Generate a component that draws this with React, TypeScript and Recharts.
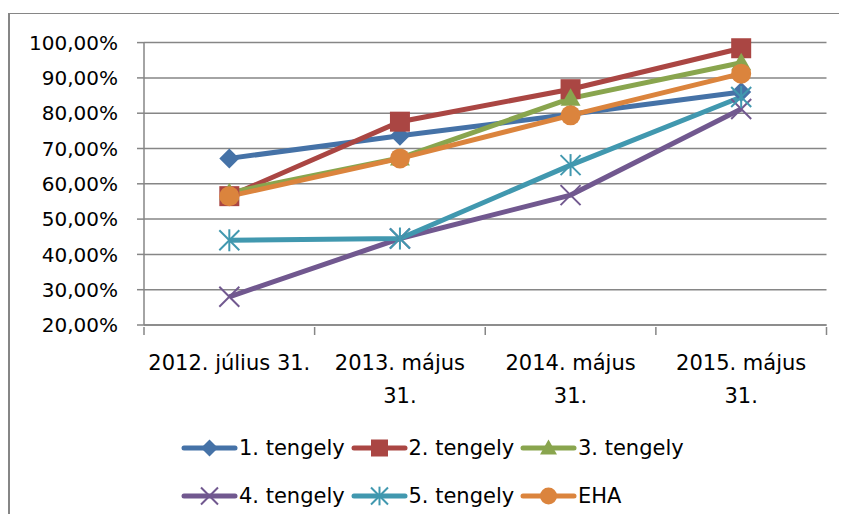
import React from 'react';
import { LineChart, Line, XAxis, YAxis, CartesianGrid, Legend } from 'recharts';

const categories = ['2012. július 31.', '2013. május 31.', '2014. május 31.', '2015. május 31.'];
const tickLines = [['2012. július 31.'], ['2013. május', '31.'], ['2014. május', '31.'], ['2015. május', '31.']];
const yTicks = [20, 30, 40, 50, 60, 70, 80, 90, 100];

const tengely1 = [67.2, 73.6, 79.7, 86.0];
const tengely2 = [56.5, 77.6, 86.8, 98.4];
const tengely3 = [57.5, 67.3, 84.2, 94.3];
const tengely4 = [28.0, 44.5, 56.8, 81.2];
const tengely5 = [44.0, 44.5, 65.3, 84.6];
const eha = [56.5, 67.2, 79.4, 91.2];

const CHART_W = 829;
const CHART_H = 500;
const Y_AXIS_W = 134;
const MARGIN = { top: 28.6, right: 12.5, bottom: 0, left: 0 };
const BAND = (CHART_W - Y_AXIS_W - MARGIN.right) / categories.length;
const FONT = '"DejaVu Sans", sans-serif';
const AXIS_GRAY = '#868686';

type Shape = 'diamond' | 'square' | 'triangle' | 'x' | 'star' | 'circle';

const series: { key: string; name: string; color: string; shape: Shape; values: number[] }[] = [
  { key: 's1', name: '1. tengely', color: '#4572A7', shape: 'diamond', values: tengely1 },
  { key: 's2', name: '2. tengely', color: '#AA4643', shape: 'square', values: tengely2 },
  { key: 's3', name: '3. tengely', color: '#89A54E', shape: 'triangle', values: tengely3 },
  { key: 's4', name: '4. tengely', color: '#71588F', shape: 'x', values: tengely4 },
  { key: 's5', name: '5. tengely', color: '#4198AF', shape: 'star', values: tengely5 },
  { key: 's6', name: 'EHA', color: '#DB843D', shape: 'circle', values: eha },
];

const data = categories.map((c, i) => {
  const row: Record<string, any> = { name: c, idx: i };
  series.forEach(s => { row[s.key] = s.values[i]; });
  return row;
});

const fmtPct = (v: number) => `${v.toFixed(2).replace('.', ',')}%`;

const Marker = ({ shape, color, cx, cy, scale = 1 }: { shape: Shape; color: string; cx: number; cy: number; scale?: number }) => {
  const h = 10 * scale;
  switch (shape) {
    case 'diamond':
      return <polygon points={`${cx},${cy - h} ${cx + h},${cy} ${cx},${cy + h} ${cx - h},${cy}`} fill={color} />;
    case 'square':
      return <rect x={cx - h} y={cy - h} width={2 * h} height={2 * h} fill={color} />;
    case 'triangle':
      return <polygon points={`${cx},${cy - h} ${cx + h},${cy + h * 0.75} ${cx - h},${cy + h * 0.75}`} fill={color} />;
    case 'x':
      return (
        <g stroke={color} strokeWidth={2}>
          <line x1={cx - h} y1={cy - h} x2={cx + h} y2={cy + h} />
          <line x1={cx - h} y1={cy + h} x2={cx + h} y2={cy - h} />
        </g>
      );
    case 'star':
      return (
        <g stroke={color} strokeWidth={2}>
          <line x1={cx - h} y1={cy - h} x2={cx + h} y2={cy + h} />
          <line x1={cx - h} y1={cy + h} x2={cx + h} y2={cy - h} />
          <line x1={cx} y1={cy - h * 1.1} x2={cx} y2={cy + h * 1.1} />
        </g>
      );
    default:
      return <circle cx={cx} cy={cy} r={h} fill={color} />;
  }
};

const XTick = (props: any) => {
  const { x, y, payload, index } = props;
  const lines = tickLines[index] || [payload.value];
  const left = x - BAND / 2;
  return (
    <g>
      <line x1={left} y1={y} x2={left} y2={y + 8} stroke={AXIS_GRAY} strokeWidth={1.5} />
      {index === categories.length - 1 && (
        <line x1={left + BAND} y1={y} x2={left + BAND} y2={y + 8} stroke={AXIS_GRAY} strokeWidth={1.5} />
      )}
      {lines.map((l: string, i: number) => (
        <text key={i} x={x} y={y + 36 + i * 32.5} textAnchor="middle" dominantBaseline="central"
          fontFamily={FONT} fontSize={21} fill="#000">
          {l}
        </text>
      ))}
    </g>
  );
};

const LegendContent = () => (
  <div style={{ position: 'relative', width: 600, height: 80, fontFamily: FONT, fontSize: 21, color: '#000' }}>
    {series.map((s, i) => {
      const col = i % 3;
      const row = Math.floor(i / 3);
      return (
        <div key={s.key} style={{ position: 'absolute', left: col * 169.5, top: row * 48, height: 28, display: 'flex', alignItems: 'center', whiteSpace: 'nowrap' }}>
          <svg width={57} height={28} style={{ display: 'block' }}>
            <line x1={3} y1={14} x2={54} y2={14} stroke={s.color} strokeWidth={5} strokeLinecap="round" />
            <Marker shape={s.shape} color={s.color} cx={28.5} cy={14} scale={0.85} />
          </svg>
          <span style={{ marginLeft: 1 }}>{s.name}</span>
        </div>
      );
    })}
  </div>
);

export default function App() {
  return (
    <div style={{ width: 831, height: 501, marginTop: 5, borderLeft: `2px solid ${AXIS_GRAY}`, borderTop: `1px solid ${AXIS_GRAY}`, boxSizing: 'border-box', background: '#fff' }}>
      <LineChart width={CHART_W} height={CHART_H} data={data} margin={MARGIN}>
        <CartesianGrid vertical={false} stroke={AXIS_GRAY} strokeWidth={1.5} />
        <XAxis dataKey="name" interval={0} height={CHART_H - MARGIN.top - 282.4} tickSize={0} tickLine={false}
          padding={{ left: BAND / 2, right: BAND / 2 }}
          axisLine={{ stroke: AXIS_GRAY, strokeWidth: 1.5 }} tick={<XTick />} />
        <YAxis domain={[20, 100]} ticks={yTicks} width={Y_AXIS_W} tickSize={7} tickMargin={19}
          tickFormatter={fmtPct} axisLine={{ stroke: AXIS_GRAY, strokeWidth: 1.5 }}
          tickLine={{ stroke: AXIS_GRAY, strokeWidth: 1.5 }}
          tick={{ fontFamily: FONT, fontSize: 20, fill: '#000' }} />
        <Legend verticalAlign="middle" layout="horizontal" content={<LegendContent />}
          wrapperStyle={{ top: 420, left: 171, width: 600, height: 80 }} />
        {series.map(s => (
          <Line key={s.key} type="linear" dataKey={s.key} name={s.name} stroke={s.color} strokeWidth={5}
            isAnimationActive={false} legendType="none"
            dot={(p: any) => <Marker key={`${s.key}-${p.index}`} shape={s.shape} color={s.color} cx={p.cx} cy={p.cy} />}
            activeDot={false} />
        ))}
      </LineChart>
    </div>
  );
}
